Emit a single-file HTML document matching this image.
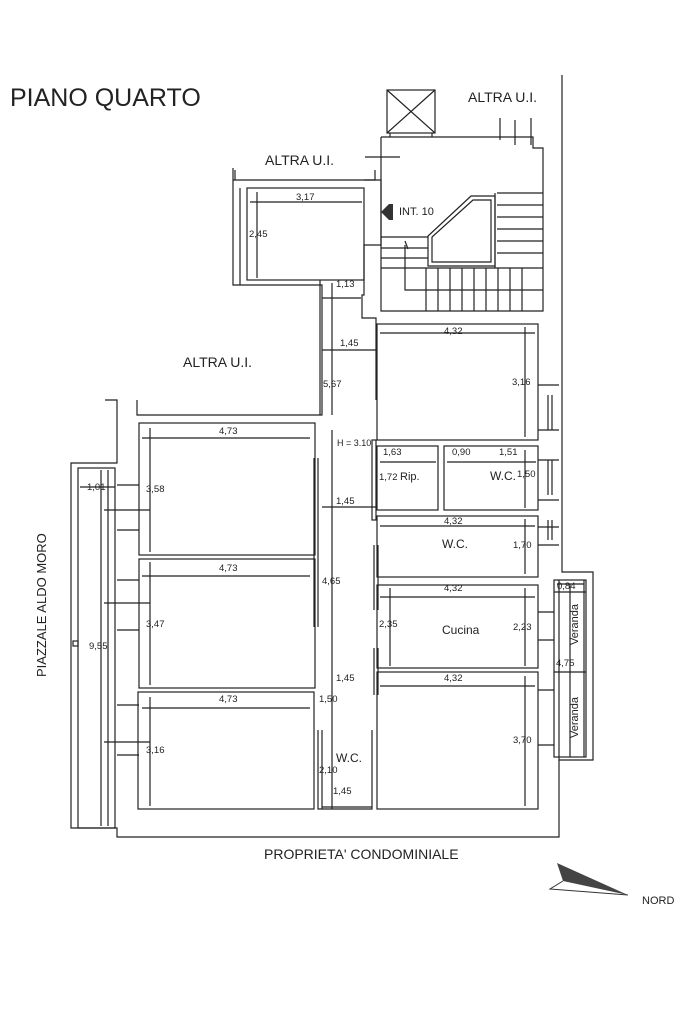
<!DOCTYPE html>
<html><head><meta charset="utf-8"><style>
html,body{margin:0;padding:0;background:#fff;}
svg{display:block;}
text{font-family:"Liberation Sans",sans-serif;fill:#222;}
.d{font-size:9.5px;}
</style></head><body>
<svg width="683" height="1023" viewBox="0 0 683 1023" xmlns="http://www.w3.org/2000/svg">
<g stroke="#222" stroke-width="1.2" fill="none">
<polyline points="562,75 562,572 593,572 593,580"/>
<polyline points="559,580 559,760 593,760 593,580"/>
<polyline points="559,760 559,837 117,837 117,828 71,828 71,463 117,463 117,400 105,400"/>
<polyline points="137,400 137,415 322,415 322,285 233,285 233,180 233,168"/>
<polyline points="233,180 375,180 375,170"/>
<rect x="78" y="468" width="37" height="360"/>
<line x1="101" y1="470" x2="101" y2="826"/>
<rect x="73" y="641" width="5" height="5"/>
<rect x="247" y="188" width="117" height="92"/>
<line x1="240" y1="188" x2="240" y2="285"/>
<polyline points="364,180 381,180 381,245 364,245 364,295 362,295 362,318 376,318 376,400"/>
<polyline points="320,280 320,415"/>
<polyline points="381,137 533,137 533,148 543,148 543,311 381,311 381,137"/>
<rect x="387" y="90" width="48" height="43"/>
<line x1="387" y1="90" x2="435" y2="133"/><line x1="435" y1="90" x2="387" y2="133"/>
<line x1="390" y1="133" x2="390" y2="137"/><line x1="432" y1="133" x2="432" y2="137"/>
<polygon points="428,236 428,266 495,266 495,196 471,196"/>
<polygon points="432,237 432,262 491,262 491,200 473,200"/>
<path d="M497,193H543M497,205H543M497,217H543M497,229H543M497,241H543M497,253H543M381,237H428M381,248H428M381,258H428M381,268H543M405,245V290H543M426,268V311M438,268V311M450,268V311M462,268V311M474,268V311M486,268V311M498,268V311M510,268V311M522,268V311"/>
<path d="M495,193V268M405,241l3,8"/>
<path d="M365,157H400M515,120V145M500,118V140M531,118V145M235,180V170"/>
<rect x="377" y="324" width="161" height="116"/>
<rect x="377" y="446" width="61" height="64"/>
<rect x="444" y="446" width="94" height="64"/>
<rect x="377" y="516" width="161" height="61"/>
<rect x="377" y="585" width="161" height="83"/>
<rect x="377" y="672" width="161" height="137"/>
<rect x="372" y="440" width="4" height="80" fill="#fff"/>
<line x1="374" y1="545" x2="374" y2="610"/><line x1="378" y1="545" x2="378" y2="610"/>
<line x1="374" y1="648" x2="374" y2="695"/><line x1="378" y1="648" x2="378" y2="695"/>
<rect x="554" y="580" width="32" height="177"/>
<line x1="554" y1="592" x2="586" y2="592"/><line x1="554" y1="672" x2="586" y2="672"/>
<line x1="584" y1="580" x2="584" y2="757"/>
<rect x="139" y="423" width="176" height="132"/>
<rect x="139" y="559" width="176" height="129"/>
<rect x="138" y="692" width="176" height="117"/>
<line x1="318" y1="458" x2="318" y2="627"/><line x1="314" y1="458" x2="314" y2="627"/>
<polyline points="318,730 318,809 372,809 372,730"/>
<line x1="322" y1="730" x2="322" y2="809"/>
<path d="M538,385H559M538,430H559M538,460H559M538,500H559M538,527H559M538,545H559M538,612H554M538,640H554M538,690H554M538,745H554M548,395V430M552,395V430M548,460V495M552,460V495M548,520V540M552,520V540"/>
<path d="M117,485H139M117,530H139M117,580H139M117,630H139M117,705H139M117,755H139M104,510H150M104,603H150M104,742H150"/>
<path d="M142,438H310M142,576H310M142,708H310M250,202H362M257,192V278M150,428V552M150,562V685M150,697V806M108,470V826M80,487H115M332,283V415M322,298H361M322,350H376M332,430V809M322,507H376M380,333H535M525,327V437M380,462H436M447,462H536M525,450V508M380,526H535M525,519V574M380,597H535M390,588V666M525,588V666M380,686H535M525,676V806M322,807H372M570,584V757M557,584H584"/>
</g>
<polygon points="381,212 389,204 393,204 393,220 389,220" fill="#333"/>
<polygon points="557,863 628,895 563,881" fill="#444"/>
<polyline points="563,881 550,889 628,895" fill="none" stroke="#333" stroke-width="1"/>
<text x="10" y="106" font-size="25">PIANO QUARTO</text>
<text x="468" y="102" font-size="14">ALTRA U.I.</text>
<text x="265" y="165" font-size="14">ALTRA U.I.</text>
<text x="183" y="367" font-size="14">ALTRA U.I.</text>
<text x="399" y="215" font-size="11">INT. 10</text>
<text x="264" y="859" font-size="14">PROPRIETA' CONDOMINIALE</text>
<text x="642" y="904" font-size="11">NORD</text>
<text transform="translate(46,677) rotate(-90)" font-size="13">PIAZZALE  ALDO MORO</text>
<text transform="translate(578,645) rotate(-90)" font-size="11">Veranda</text>
<text transform="translate(578,738) rotate(-90)" font-size="11">Veranda</text>
<text x="442" y="634" font-size="12">Cucina</text>
<text x="442" y="548" font-size="12">W.C.</text>
<text x="490" y="480" font-size="12">W.C.</text>
<text x="336" y="762" font-size="12">W.C.</text>
<text x="337" y="446" font-size="9">H = 3.10</text>
<g class="d">
<text x="296" y="200">3,17</text><text x="249" y="237">2,45</text>
<text x="336" y="287">1,13</text><text x="340" y="346">1,45</text>
<text x="323" y="387">5,67</text><text x="444" y="334">4,32</text>
<text x="512" y="385">3,16</text><text x="219" y="434">4,73</text>
<text x="146" y="492">3,58</text><text x="87" y="490">1,01</text>
<text x="383" y="455">1,63</text><text x="452" y="455">0,90</text>
<text x="499" y="455">1,51</text><text x="379" y="480">1,72</text>
<text x="400" y="480" font-size="11">Rip.</text><text x="517" y="477">1,50</text>
<text x="336" y="504">1,45</text><text x="444" y="524">4,32</text>
<text x="513" y="548">1,70</text><text x="219" y="571">4,73</text>
<text x="322" y="584">4,65</text><text x="444" y="591">4,32</text>
<text x="557" y="589">0,84</text><text x="146" y="627">3,47</text>
<text x="379" y="627">2,35</text><text x="513" y="630">2,23</text>
<text x="89" y="649">9,55</text><text x="556" y="666">4,75</text>
<text x="336" y="681">1,45</text><text x="444" y="681">4,32</text>
<text x="219" y="702">4,73</text><text x="319" y="702">1,50</text>
<text x="513" y="743">3,70</text><text x="146" y="753">3,16</text>
<text x="319" y="773">2,10</text><text x="333" y="794">1,45</text>
</g>
</svg>
</body></html>
